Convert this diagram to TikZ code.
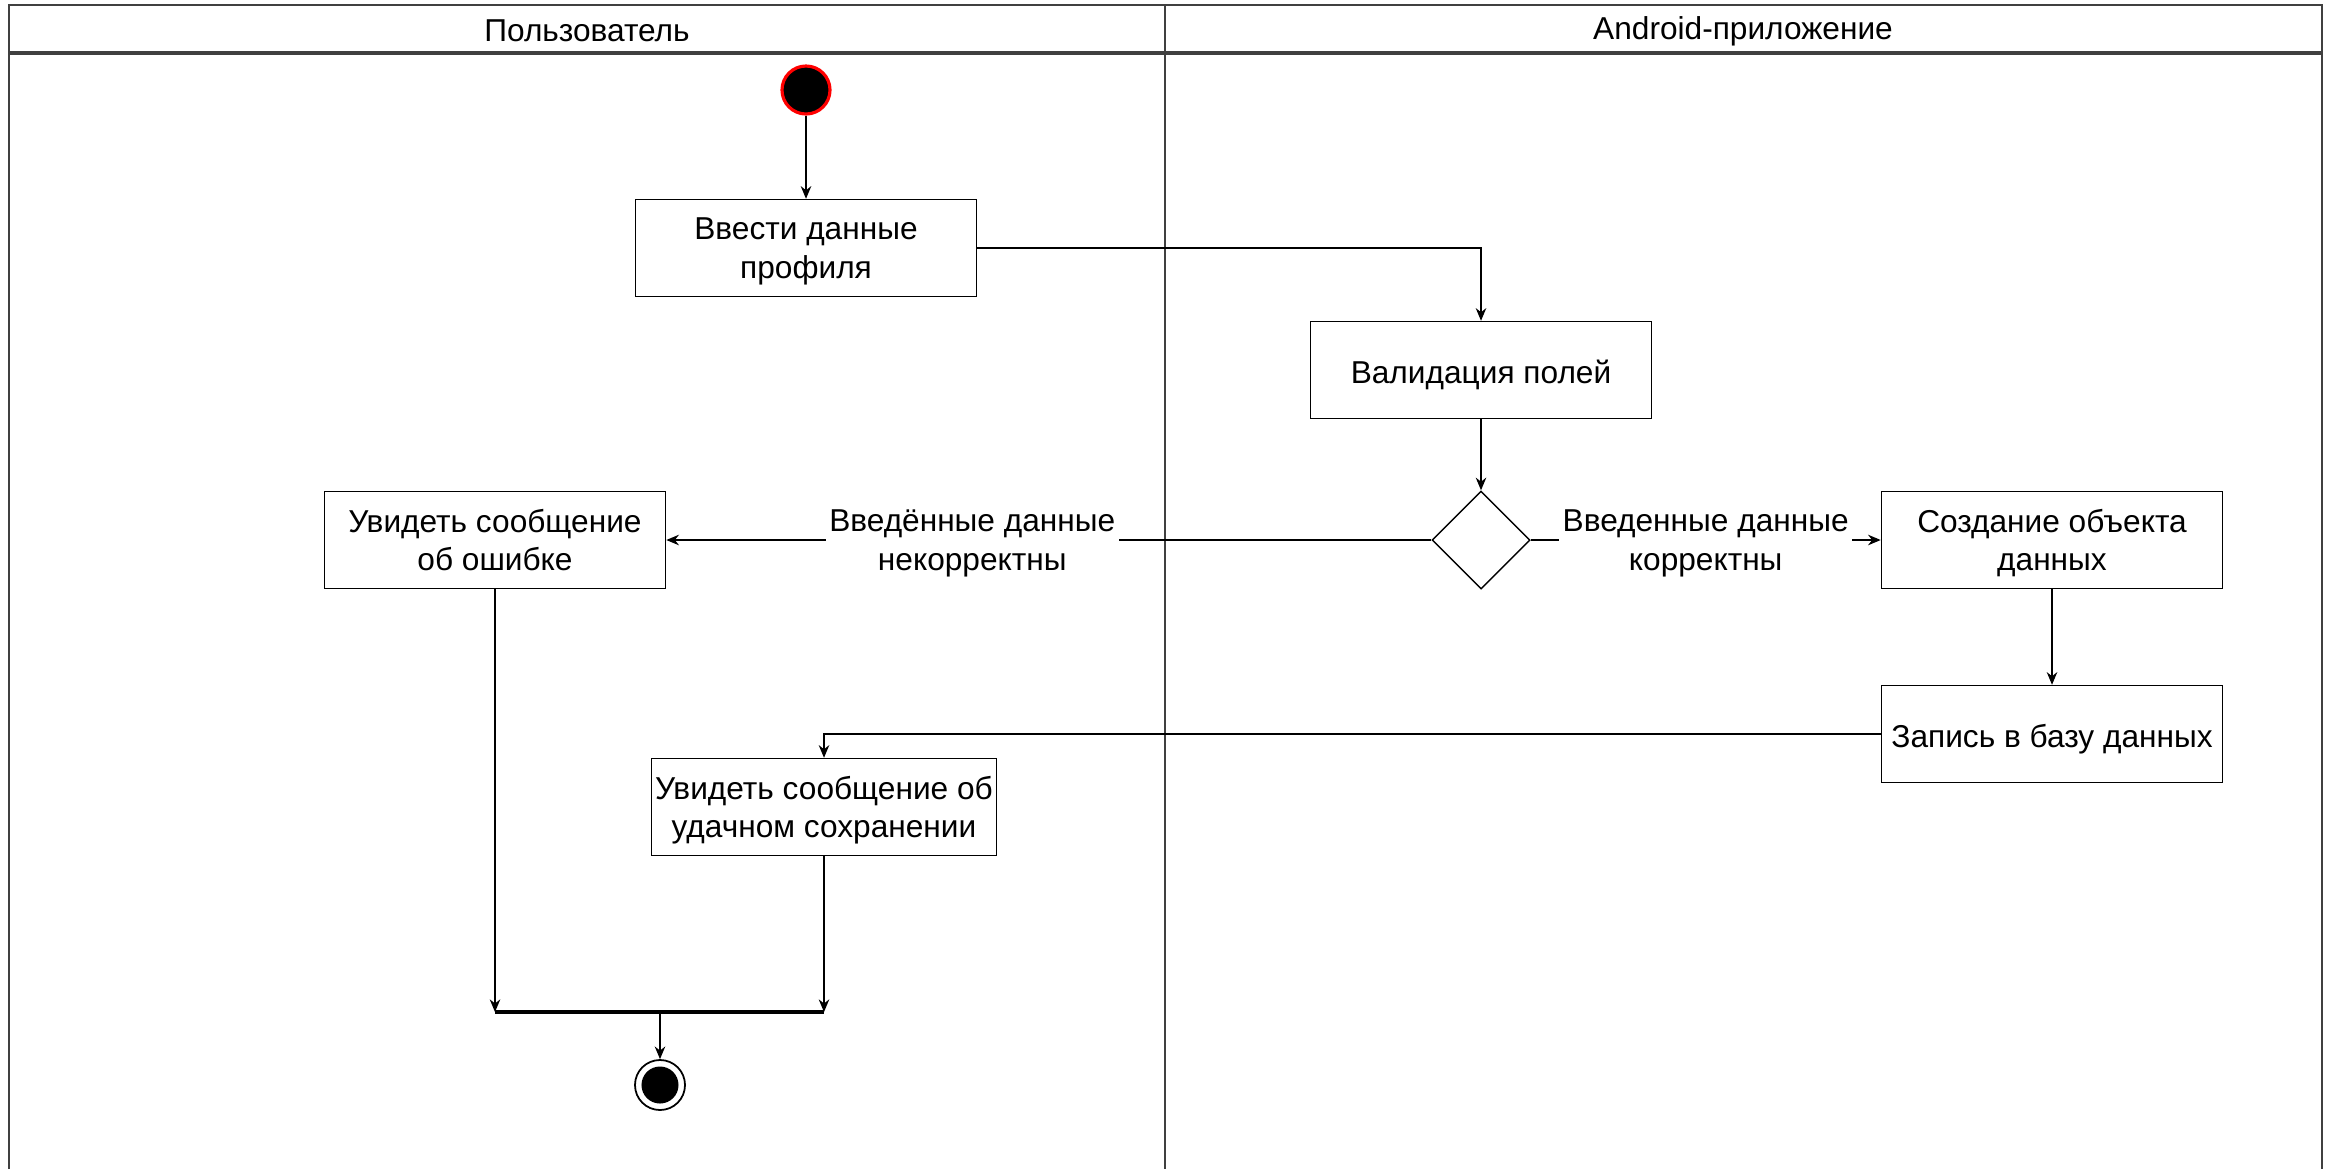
\documentclass[tikz,border=0pt]{standalone}
\usepackage{fontspec}
\setmainfont{Liberation Sans}
\usetikzlibrary{arrows.meta,shapes.geometric}

\begin{document}
\begin{tikzpicture}[x=0.01cm, y=-0.01cm,
    font=\fontsize{9}{11}\selectfont,
    line width=0.4pt,
    >={Stealth[length=3.6pt, width=3pt]},
    act/.style={draw, rectangle, align=center, minimum width=3.41cm, minimum height=0.97cm, inner sep=1pt,
        text depth=0pt, execute at begin node={\strut}},
    lane/.style={draw=black!75, line width=0.5pt},
    guard/.style={fill=white, align=center, inner sep=1pt, text depth=0pt, execute at begin node={\strut}},
    startdot/.style={circle, fill=black, draw=red, line width=0.9pt, minimum size=0.48cm, inner sep=0pt},
    enddot/.style={circle, draw=black, line width=0.5pt, minimum size=0.5cm, inner sep=0pt},
    decision/.style={draw, diamond, minimum width=0.98cm, minimum height=0.98cm, inner sep=0pt},
    bar/.style={line width=1pt}]
    \useasboundingbox (0,0) rectangle (2333,1169);

    % Draw the swimlanes
    \draw[lane] (9,1169) -- (9,5) -- (2322,5) -- (2322,1169);
    \draw[lane] (1165,5) -- (1165,1169);
    \draw[lane, line width=0.9pt] (9,53) -- (2322,53);
    \node (laneU) at (587,31) {Пользователь};
    \node (laneA) at (1743,31) {Android-приложение};

    % Draw the nodes
    \node[startdot] (start) at (806,90) {};
    \node[act] (input) at (806,248) {Ввести данные\\профиля};
    \node[act] (valid) at (1481,370) {Валидация полей};
    \node[decision] (check) at (1481,540) {};
    \node[act] (create) at (2052,540) {Создание объекта\\данных};
    \node[act] (save) at (2052,734) {Запись в базу данных};
    \node[act] (err) at (495,540) {Увидеть сообщение\\об ошибке};
    \node[act] (ok) at (824,807) {Увидеть сообщение об\\удачном сохранении};
    \node[enddot] (stop) at (660,1085) {};
    \fill (stop.center) circle (0.185cm);

    % Join bar
    \coordinate (barL) at (495,1012);
    \coordinate (barM) at (660,1012);
    \coordinate (barR) at (824,1012);
    \draw[bar] (barL) -- (barR);

    % Draw the connectors
    \draw[->] (start) -- (input);
    \draw[->] (input.east) -| (valid.north);
    \draw[->] (valid) -- (check);
    \draw[->] (check.east) -- node[guard] (okText) {Введенные данные\\корректны} (create.west);
    \draw[->] (check.west) -- node[guard, pos=0.6] (errText) {Введённые данные\\некорректны} (err.east);
    \draw[->] (create) -- (save);
    \draw[->] (save.west) -| (ok.north);
    \draw[->] (err.south) -- (barL);
    \draw[->] (ok.south) -- (barR);
    \draw[->] (barM) -- (stop.north);
\end{tikzpicture}
\end{document}
